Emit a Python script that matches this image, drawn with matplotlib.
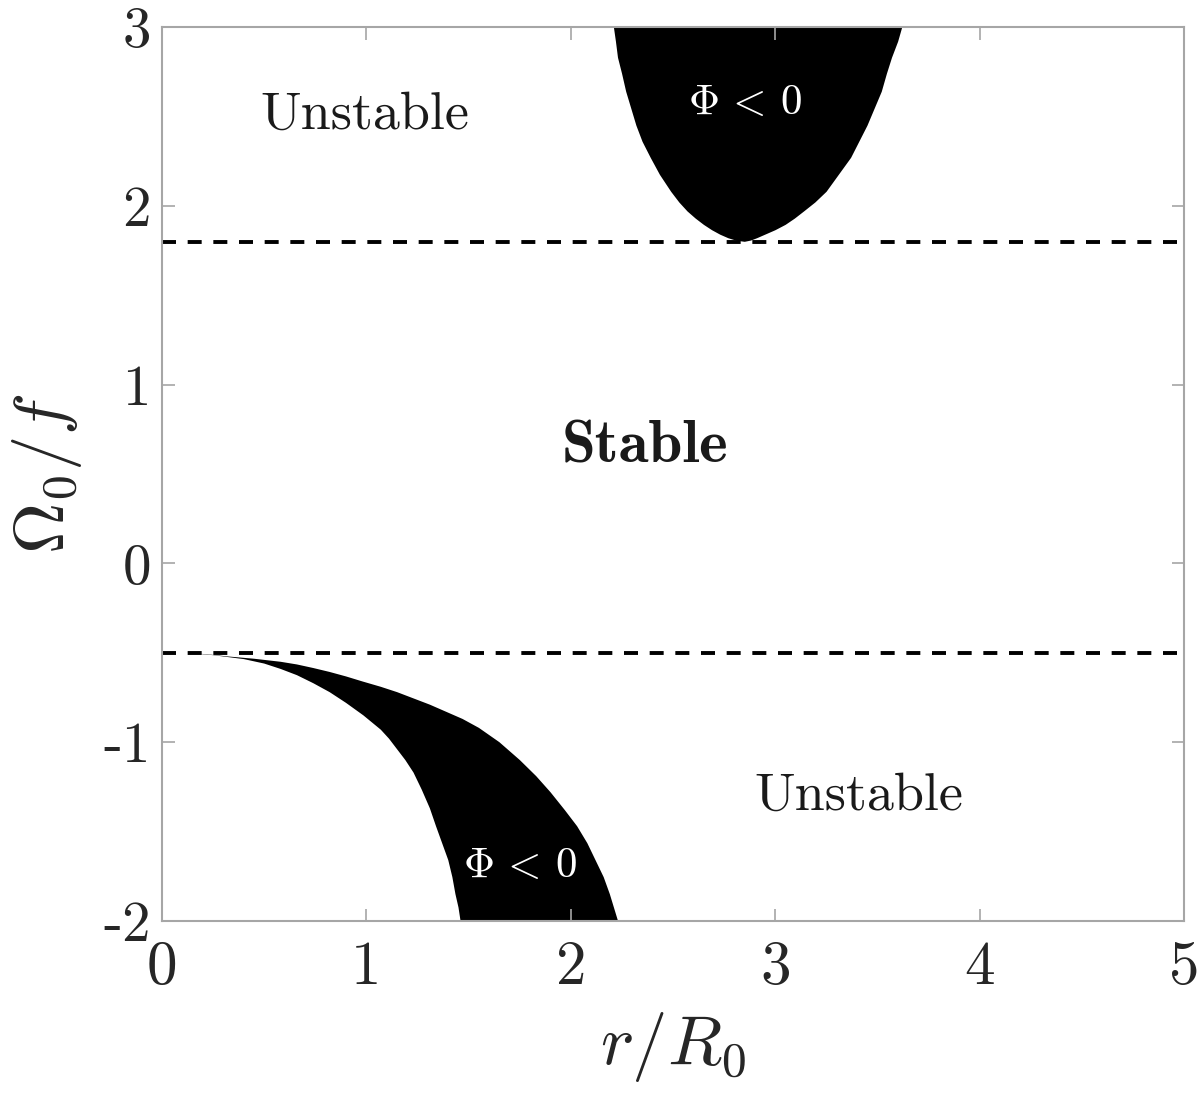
import matplotlib
matplotlib.use("Agg")
import matplotlib.pyplot as plt

plt.rcParams['mathtext.fontset'] = 'cm'
plt.rcParams['axes.formatter.use_mathtext'] = True

# upper Phi<0 region (left and right edge, from top down to the tip)
up_left_r = [2.21, 2.22, 2.23, 2.25, 2.27, 2.295, 2.32, 2.35, 2.39, 2.435, 2.49,
             2.53, 2.57, 2.61, 2.65, 2.69, 2.73, 2.77, 2.81, 2.85]
up_left_w = [3.00, 2.92, 2.83, 2.74, 2.64, 2.545, 2.45, 2.36, 2.27, 2.175, 2.08,
             2.02, 1.97, 1.93, 1.895, 1.865, 1.84, 1.82, 1.806, 1.80]
up_right_r = [3.62, 3.60, 3.57, 3.545, 3.52, 3.485, 3.45, 3.41, 3.37, 3.31, 3.25,
              3.195, 3.14, 3.095, 3.05, 3.00, 2.95, 2.91, 2.88]
up_right_w = [3.00, 2.92, 2.83, 2.74, 2.64, 2.545, 2.45, 2.36, 2.27, 2.175, 2.08,
              2.02, 1.97, 1.93, 1.895, 1.865, 1.84, 1.82, 1.807]

# lower Phi<0 region (outer and inner edge, from the start down to the bottom)
lo_out_r = [0.12, 0.22, 0.32, 0.45, 0.58, 0.66, 0.74, 0.82, 0.90, 0.98, 1.07,
            1.15, 1.23, 1.31, 1.39, 1.47, 1.55, 1.65, 1.75, 1.83, 1.90, 1.97,
            2.03, 2.08, 2.12, 2.16, 2.19, 2.21, 2.23]
lo_out_w = [-0.50, -0.508, -0.52, -0.533, -0.55, -0.565, -0.585, -0.607, -0.632,
            -0.66, -0.69, -0.72, -0.755, -0.79, -0.83, -0.87, -0.92, -1.00, -1.10,
            -1.19, -1.28, -1.38, -1.47, -1.565, -1.66, -1.755, -1.85, -1.925, -2.00]
lo_in_r = [0.12, 0.25, 0.40, 0.50, 0.58, 0.66, 0.74, 0.82, 0.90, 0.985, 1.07,
           1.11, 1.15, 1.19, 1.23, 1.27, 1.31, 1.34, 1.37, 1.40, 1.42, 1.435,
           1.45, 1.46]
lo_in_w = [-0.50, -0.513, -0.535, -0.56, -0.59, -0.625, -0.67, -0.72, -0.78,
           -0.85, -0.93, -0.98, -1.04, -1.10, -1.17, -1.265, -1.37, -1.47,
           -1.565, -1.66, -1.755, -1.85, -1.925, -2.00]

dash_levels = [1.8, -0.5]

xticks = [0, 1, 2, 3, 4, 5]
yticks = [-2, -1, 0, 1, 2, 3]

fig = plt.figure(figsize=(12, 10.95), dpi=100)
ax = fig.add_axes([0.135, 0.159, 0.852, 0.816])

ax.fill(up_left_r + up_right_r[::-1], up_left_w + up_right_w[::-1],
        color='black', lw=0)
ax.fill(lo_out_r + lo_in_r[::-1], lo_out_w + lo_in_w[::-1],
        color='black', lw=0)

for lev in dash_levels:
    ax.axhline(lev, color='black', lw=2.8, ls=(0, (3.6, 3.0)))

ax.set_xlim(0, 5)
ax.set_ylim(-2, 3)
ax.set_xticks(xticks)
ax.set_yticks(yticks)
ax.set_xticklabels([str(t) for t in xticks], fontfamily='cmr10', fontsize=44)
ax.set_yticklabels([str(t) for t in yticks], fontfamily='cmr10', fontsize=41)

grey = '#a6a6a6'
for s in ax.spines.values():
    s.set_color(grey)
    s.set_linewidth(1.5)
ax.tick_params(direction='in', length=9, width=1.2, color=grey,
               top=True, right=True, labelcolor='#262626')
ax.tick_params(axis='x', pad=14)
ax.tick_params(axis='y', pad=8)

ax.set_xlabel(r'$r/R_0$', fontsize=51, color='#262626', labelpad=10)
ax.set_ylabel(r'$\mathit{\Omega}_0/f$', fontsize=51, color='#262626', labelpad=14)

ax.text(0.99, 2.51, 'Unstable', fontfamily='cmr10', fontsize=39,
        ha='center', va='center', color='#1a1a1a')
ax.text(3.41, -1.30, 'Unstable', fontfamily='cmr10', fontsize=39,
        ha='center', va='center', color='#1a1a1a')
ax.text(2.36, 0.65, 'Stable', fontfamily='cmb10', fontsize=44,
        ha='center', va='center', color='#1a1a1a')
ax.text(2.85, 2.58, r'$\Phi\,<\,0$', fontsize=31, color='white',
        ha='center', va='center')
ax.text(1.75, -1.69, r'$\Phi\,<\,0$', fontsize=31, color='white',
        ha='center', va='center')

fig.savefig('out.png', dpi=100)
